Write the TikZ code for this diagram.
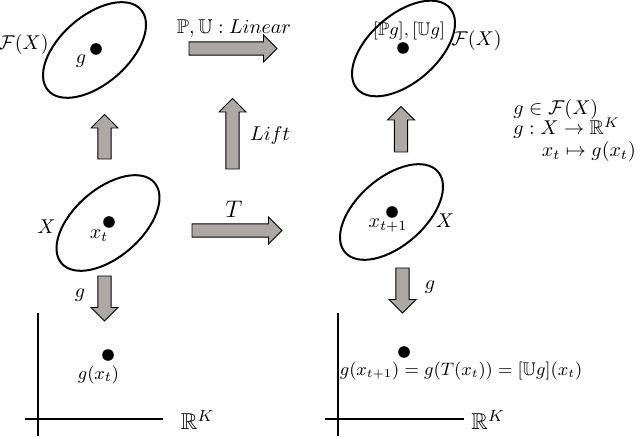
\documentclass[tikz,border=0pt]{standalone}
\usepackage{amsmath,amssymb}
\usetikzlibrary{calc,shapes.geometric}
\definecolor{arrowgray}{RGB}{172,168,166}
\tikzset{
  ellnode/.style={ellipse, draw=black, line width=1pt, minimum width=61.5pt, minimum height=34pt, inner sep=0pt},
  dotnode/.style={circle, fill=black, inner sep=0pt, minimum size=5.8pt},
  lbl/.style={inner sep=0pt},
  barrow/.style={draw=black, line width=0.45pt, fill=arrowgray, line join=miter},
  axisline/.style={line width=1.1pt}
}
\newcommand\blockarrow[2]{%
  \draw[barrow] let \p1=($(#2)-(#1)$), \n1={atan2(\y1,\x1)}, \n2={veclen(\x1,\y1)} in
    [shift={(#1)}, rotate=\n1]
    (0pt,-3.3pt) -- ({\n2-6.75pt},-3.3pt) -- ({\n2-6.75pt},-6.8pt) -- ({\n2*1pt},0pt)
    -- ({\n2-6.75pt},6.8pt) -- ({\n2-6.75pt},3.3pt) -- (0pt,3.3pt) -- cycle;}
\begin{document}
\begin{tikzpicture}[x=0.5pt,y=-0.5pt]
\useasboundingbox (0,0) rectangle (640,437);
% ellipses
\node[ellnode, rotate=41] (E1) at (94.5,50) {};
\node[ellnode, rotate=41] (E2) at (108,223) {};
\node[ellnode, rotate=41] (E3) at (403.5,48.5) {};
\node[ellnode, rotate=41] (E4) at (391.5,212) {};
% dots
\node[dotnode] (d1) at (96,49) {};
\node[dotnode] (d2) at (109,222) {};
\node[dotnode] (d3) at (403,48) {};
\node[dotnode] (d4) at (392,212) {};
\node[dotnode] (d5) at (108,355) {};
\node[dotnode] (d6) at (404,352) {};
% labels
\node[lbl] (fxl) at (23.5,45) {$\mathcal{F}(X)$};
\node[lbl] (gl) at (81,61) {$g$};
\node[lbl] (lin) at (234,29) {$\mathbb{P},\mathbb{U}:Linear$};
\node[lbl] (lift) at (270,135.5) {$Lift$};
\node[lbl] (xl) at (46.5,226.5) {$X$};
\node[lbl] (xt) at (99,236) {$x_t$};
\node[lbl] (tl) at (234,209) {\large $T$};
\node[lbl] (g1) at (80,295) {$g$};
\node[lbl] (gxt) at (98.5,375) {\fontsize{9.5}{11}\selectfont $g(x_t)$};
\node[lbl] (rk1) at (197.5,420) {\fontsize{11.5}{13}\selectfont $\mathbb{R}^K$};
\node[lbl] (pgug) at (409,31.5) {\fontsize{9.2}{11}\selectfont $[\mathbb{P}g],[\mathbb{U}g]$};
\node[lbl] (fxr) at (476.5,41) {$\mathcal{F}(X)$};
\node[lbl] (xr) at (445,221) {$X$};
\node[lbl] (xt1) at (388,226) {$x_{t+1}$};
\node[lbl] (g2) at (430,287.5) {$g$};
\node[lbl] (eq) at (461,370.5) {\fontsize{9.2}{11}\selectfont $g(x_{t+1})=g(T(x_t))=[\mathbb{U}g](x_t)$};
\node[lbl] (rk2) at (488,420) {\fontsize{11.5}{13}\selectfont $\mathbb{R}^K$};
\node[lbl, anchor=west] (t1) at (513,109.5) {$g\in\mathcal{F}(X)$};
\node[lbl, anchor=west] (t2) at (513,128.5) {$g:X\rightarrow\mathbb{R}^K$};
\node[lbl, anchor=west] (t3) at (541.5,151.5) {$x_t\mapsto g(x_t)$};
% axes
\coordinate (lv1) at (38,313); \coordinate (lv2) at (38,436);
\coordinate (lh1) at (25,419); \coordinate (lh2) at (163,419);
\coordinate (rv1) at (338,313); \coordinate (rv2) at (338,436);
\coordinate (rh1) at (325,419); \coordinate (rh2) at (464,419);
\draw[axisline] (lv1) -- (lv2);
\draw[axisline] (lh1) -- (lh2);
\draw[axisline] (rv1) -- (rv2);
\draw[axisline] (rh1) -- (rh2);
% block arrows
\coordinate (aLs) at (189,48.5);  \coordinate (aLe) at (277,48.5);
\coordinate (aTs) at (192,230.5); \coordinate (aTe) at (282,230.5);
\coordinate (aFs) at (232.5,169); \coordinate (aFe) at (232.5,98.5);
\coordinate (u1s) at (104.5,159); \coordinate (u1e) at (104.5,114.5);
\coordinate (g1s) at (104.5,276); \coordinate (g1e) at (104.5,321);
\coordinate (u2s) at (401,152);   \coordinate (u2e) at (401,106.5);
\coordinate (g2s) at (402.5,268); \coordinate (g2e) at (402.5,313);
\blockarrow{aLs}{aLe}
\blockarrow{aTs}{aTe}
\blockarrow{aFs}{aFe}
\blockarrow{u1s}{u1e}
\blockarrow{g1s}{g1e}
\blockarrow{u2s}{u2e}
\blockarrow{g2s}{g2e}
\end{tikzpicture}
\end{document}
